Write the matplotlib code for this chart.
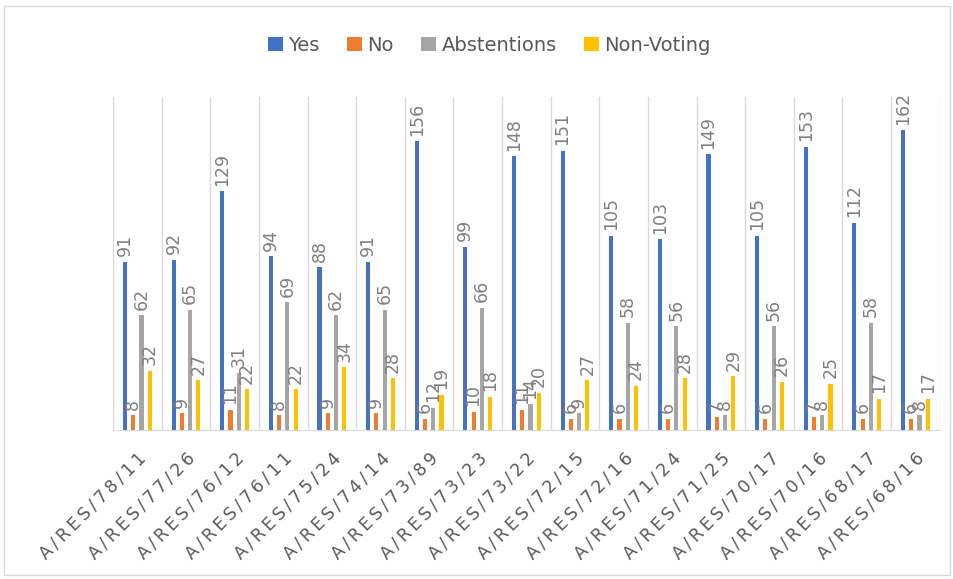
import numpy as np
import matplotlib.pyplot as plt
from matplotlib.patches import Rectangle

# resolutions and vote counts
resolutions = ['A/RES/78/11', 'A/RES/77/26', 'A/RES/76/12', 'A/RES/76/11', 'A/RES/75/24',
               'A/RES/74/14', 'A/RES/73/89', 'A/RES/73/23', 'A/RES/73/22', 'A/RES/72/15',
               'A/RES/72/16', 'A/RES/71/24', 'A/RES/71/25', 'A/RES/70/17', 'A/RES/70/16',
               'A/RES/68/17', 'A/RES/68/16']
yes = [91, 92, 129, 94, 88, 91, 156, 99, 148, 151, 105, 103, 149, 105, 153, 112, 162]
no = [8, 9, 11, 8, 9, 9, 6, 10, 11, 6, 6, 6, 7, 6, 7, 6, 6]
abstentions = [62, 65, 31, 69, 62, 65, 12, 66, 14, 9, 58, 56, 8, 56, 8, 58, 8]
non_voting = [32, 27, 22, 22, 34, 28, 19, 18, 20, 27, 24, 28, 29, 26, 25, 17, 17]

series = [('Yes', yes, '#4472C4'), ('No', no, '#ED7D31'),
          ('Abstentions', abstentions, '#A5A5A5'), ('Non-Voting', non_voting, '#FFC000')]

txt = '#595959'
fig = plt.figure(figsize=(9.54, 5.79), dpi=100)
ax = fig.add_axes([0.1185, 0.2573, 0.8665, 0.5752])

x = np.arange(len(resolutions))
step = 0.17
w = 0.085
for i, (name, vals, col) in enumerate(series):
    bars = ax.bar(x + (i - 1.5) * step, vals, w, color=col, label=name, zorder=3)
    ax.bar_label(bars, rotation=90, padding=4, color='#7f7f7f', fontsize=12.5)

ax.set_xlim(-0.5, len(resolutions) - 0.5)
ax.set_ylim(0, 180)
ax.set_yticks([])
ax.set_xticks(x)
spaced = ['\u2009'.join(r) for r in resolutions]
ax.set_xticklabels(spaced, rotation=45, ha='right', rotation_mode='anchor',
                   fontsize=12.5, color=txt)
ax.tick_params(axis='x', length=0, pad=14)
ax.set_xticks(np.arange(-0.5, len(resolutions)), minor=True)
ax.tick_params(axis='x', which='minor', length=0)
ax.grid(axis='x', which='minor', color='#d9d9d9', linewidth=1, zorder=0)
for s in ['top', 'left', 'right']:
    ax.spines[s].set_visible(False)
ax.spines['bottom'].set_color('#d9d9d9')

fig.legend(loc='center', bbox_to_anchor=(0.513, 0.922), ncol=4, frameon=False,
           fontsize=14, labelcolor=txt, handlelength=0.75, handleheight=0.75,
           handletextpad=0.3, columnspacing=1.4)

fig.patches.append(Rectangle((0.004, 0.007), 0.992, 0.982, transform=fig.transFigure,
                             fill=False, edgecolor='#d9d9d9', linewidth=1))

fig.savefig('out.png', dpi=100)
